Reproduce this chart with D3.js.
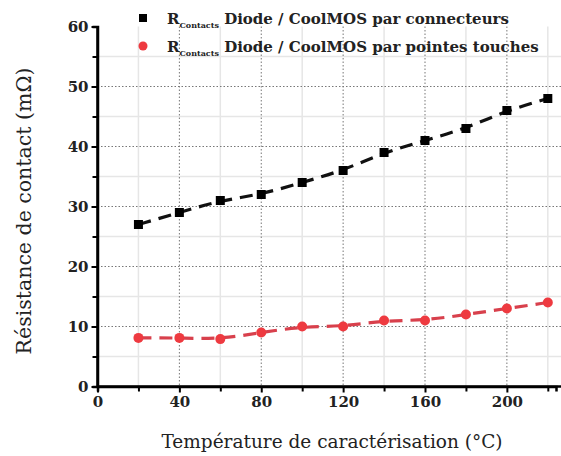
<!DOCTYPE html>
<html>
<head>
<meta charset="utf-8">
<script src="https://cdn.jsdelivr.net/npm/d3@7"></script>
<style>
  html, body { margin: 0; padding: 0; background: #fff; }
  svg { display: block; }
</style>
</head>
<body>
<div id="container"></div>
<script>
const temperatures = [20, 40, 60, 80, 100, 120, 140, 160, 180, 200, 220];
const rConnecteurs = [27, 29, 31, 32, 34, 36, 39, 41, 43, 46, 48];
const rPointes = [8.1, 8.1, 7.9, 9, 10, 10, 11, 11, 12, 13, 14];
const xTicks = [0, 40, 80, 120, 160, 200];
const xMinor = [20, 60, 100, 140, 180, 220];
const yTicks = [0, 10, 20, 30, 40, 50, 60];
const yMinor = [5, 15, 25, 35, 45, 55];
const legendLabels = ['Diode / CoolMOS par connecteurs', 'Diode / CoolMOS par pointes touches'];

const width = 561, height = 456;
const font = "'DejaVu Serif', 'Liberation Serif', serif";

let viz = d3.select('#container')
    .append('svg')
    .attr('width', width)
    .attr('height', height)
    .style('background', '#fff');

const x = d3.scaleLinear().domain([0, 224]).range([97.5, 556]);
const y = d3.scaleLinear().domain([0, 60]).range([386.5, 26.5]);

// grid lines
let grid = viz.append('g');
grid.selectAll('.vminor').data(xMinor)
    .enter().append('line')
    .attr('x1', d => x(d)).attr('x2', d => x(d))
    .attr('y1', y(60)).attr('y2', y(0))
    .attr('stroke', '#e6e6e6').attr('stroke-width', 1.5);
grid.selectAll('.hminor').data(yMinor)
    .enter().append('line')
    .attr('x1', x(0)).attr('x2', width)
    .attr('y1', d => y(d)).attr('y2', d => y(d))
    .attr('stroke', '#e6e6e6').attr('stroke-width', 1.5);
grid.selectAll('.vmajor').data(xTicks.slice(1))
    .enter().append('line')
    .attr('x1', d => x(d)).attr('x2', d => x(d))
    .attr('y1', y(60)).attr('y2', y(0))
    .attr('stroke', '#777').attr('stroke-dasharray', '1.5,2');
grid.selectAll('.hmajor').data(yTicks.slice(1, -1))
    .enter().append('line')
    .attr('x1', x(0)).attr('x2', width)
    .attr('y1', d => y(d)).attr('y2', d => y(d))
    .attr('stroke', '#777').attr('stroke-dasharray', '1.5,2');

// axes
let xAxis = viz.append('g')
    .attr('transform', `translate(0,${y(0)})`)
    .call(d3.axisBottom(x).tickValues(xTicks).tickSize(6).tickPadding(4));
xAxis.append('g').call(d3.axisBottom(x).tickValues(xMinor).tickSize(5).tickFormat(''));
let yAxis = viz.append('g')
    .attr('transform', `translate(${x(0)},0)`)
    .call(d3.axisLeft(y).tickValues(yTicks).tickSize(6).tickPadding(3));
yAxis.append('g').call(d3.axisLeft(y).tickValues(yMinor).tickSize(5).tickFormat(''));

[xAxis, yAxis].forEach(a => {
    a.attr('font-family', font);
    a.selectAll('.domain').attr('stroke', '#000').attr('stroke-width', 2.5);
    a.selectAll('line').attr('stroke', '#000').attr('stroke-width', 2);
    a.selectAll('text')
        .attr('fill', '#222')
        .style('font-family', font)
        .style('font-size', '15px')
        .style('font-weight', 'bold');
});
xAxis.select('.domain').attr('d', `M${x(0)},0H${width}`);
yAxis.select('.domain').attr('d', `M0,${y(60)}V${y(0)}`);

// x axis title
viz.append('text')
    .text('Température de caractérisation (°C)')
    .attr('x', 332).attr('y', 448)
    .attr('text-anchor', 'middle')
    .attr('fill', '#222')
    .style('font-family', font)
    .style('font-size', '18.5px');

// y axis title
viz.append('text')
    .text('Résistance de contact (mΩ)')
    .attr('transform', 'translate(31,211) rotate(-90)')
    .attr('text-anchor', 'middle')
    .attr('fill', '#222')
    .style('font-family', font)
    .style('font-size', '20.5px');

// series
const series = [
    { values: rConnecteurs, color: '#000', lineColor: '#111', shape: 'square' },
    { values: rPointes, color: '#ee3a40', lineColor: '#d8404c', shape: 'circle' }
];

let line = d3.line()
    .x(d => x(d[0]))
    .y(d => y(d[1]))
    .curve(d3.curveBasis);

series.forEach(s => {
    let pts = temperatures.map((t, i) => [t, s.values[i]]);
    viz.append('path')
        .datum(pts)
        .attr('d', line)
        .attr('fill', 'none')
        .attr('stroke', s.lineColor)
        .attr('stroke-width', 3.2)
        .attr('stroke-dasharray', '13,8');
    let g = viz.append('g');
    if (s.shape === 'square') {
        g.selectAll('rect').data(pts).enter().append('rect')
            .attr('x', d => x(d[0]) - 4.5).attr('y', d => y(d[1]) - 4.5)
            .attr('width', 9).attr('height', 9)
            .attr('fill', s.color);
    } else {
        g.selectAll('circle').data(pts).enter().append('circle')
            .attr('cx', d => x(d[0])).attr('cy', d => y(d[1]))
            .attr('r', 5)
            .attr('fill', s.color);
    }
});

// legend
let legend = viz.append('g')
    .style('font-family', font)
    .attr('fill', '#222');
legendLabels.forEach((label, i) => {
    let ly = 18 + i * 28;
    if (i === 0) {
        legend.append('rect').attr('x', 139).attr('y', ly - 4).attr('width', 8).attr('height', 8).attr('fill', '#000');
    } else {
        legend.append('circle').attr('cx', 143).attr('cy', ly).attr('r', 4.5).attr('fill', '#ee3a40');
    }
    let t = legend.append('text')
        .attr('x', 167).attr('y', ly + 6)
        .style('font-size', '15px')
        .style('font-weight', 'bold');
    t.append('tspan').text('R');
    t.append('tspan').text('Contacts')
        .attr('dy', 4)
        .style('font-size', '8px');
    t.append('tspan').text(' ' + label)
        .attr('dy', -4);
});
</script>
</body>
</html>
